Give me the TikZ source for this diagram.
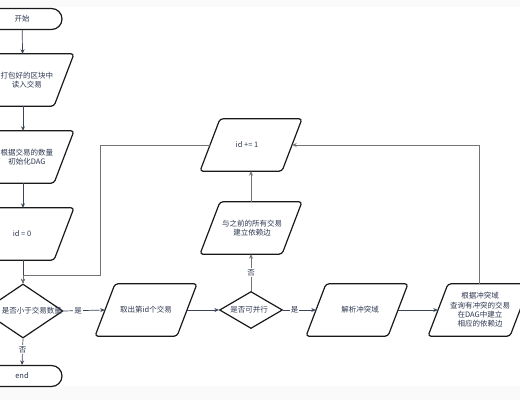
\documentclass[tikz,border=0pt]{standalone}
\usepackage{fontspec}
\newfontfamily\cjk{Noto Sans CJK SC}
\usetikzlibrary{shapes.geometric,shapes.misc,arrows.meta,calc}
\definecolor{txtc}{RGB}{45,55,80}
\definecolor{edgec}{RGB}{25,25,25}
\definecolor{arrc}{RGB}{60,68,88}
\definecolor{loopc}{RGB}{115,115,115}
\definecolor{bandc}{RGB}{250,250,250}
\tikzset{
 lbl/.style={font=\cjk\fontsize{7.5}{9.3}\selectfont, text=txtc, align=center, inner sep=0pt},
 pbox/.style={draw=none, minimum width=82pt, minimum height=52pt, inner sep=0pt},
 pshape/.style={draw=edgec, line width=1.2pt, rounded corners=3pt},
 diam/.style={diamond, draw=edgec, line width=1.2pt, inner sep=0pt},
 term/.style={rounded rectangle, draw=edgec, line width=1.2pt, minimum width=80pt, minimum height=21pt, inner sep=0pt},
 arr/.style={-{Stealth[length=4.5pt,width=4pt]}, line width=0.7pt, draw=arrc},
 back/.style={arr, draw=loopc},
 elab/.style={lbl, fill=white, inner sep=1pt},
}
\newcommand\parabox[5]{%
 \node[pbox] (#1) at (#2,#3) {};
 \draw[pshape] ($(#1.north)+(-31pt,0pt)$) -- ($(#1.north)+(51pt,0pt)$) -- ($(#1.south)+(31pt,0pt)$) -- ($(#1.south)+(-51pt,0pt)$) -- cycle;
 \node[lbl] (#1t) at (#4,#3) {#5};
}
\begin{document}
\begin{tikzpicture}[x=1pt,y=-1pt]
\useasboundingbox (0,0) rectangle (520,400);
\fill[bandc] (0,0) rectangle (520,7);
\fill[bandc] (0,386) rectangle (520,400);

\node[term, lbl] (start) at (22,19) {开始};
\parabox{p1}{23}{80}{27}{打包好的区块中\\读入交易}
\parabox{p2}{23}{157}{27}{根据交易的数量\\初始化DAG}
\parabox{p3}{23}{234}{22}{id = 0}
\node[diam, minimum width=80pt, minimum height=54pt] (d1) at (23,311) {};
\node[lbl, anchor=east] (d1t) at (62,311) {是否小于交易数量};
\node[term, lbl] (end) at (22,376) {end};

\parabox{take}{146}{310}{146}{取出第id个交易}
\node[diam, minimum width=63pt, minimum height=37pt] (d2) at (251,310) {};
\node[lbl] (d2t) at (249,310) {是否可并行};
\parabox{dep}{251}{228}{252}{与之前的所有交易\\建立依赖边}
\parabox{inc}{251}{145}{247}{id += 1}
\parabox{parse}{357}{310}{360}{解析冲突域}
\parabox{build}{479}{310}{480}{根据冲突域\\查询有冲突的交易\\在DAG中建立\\相应的依赖边}

\coordinate (c1) at (100,275);

\draw[arr] (start) -- (p1);
\draw[arr] (p1) -- (p2);
\draw[arr] (p2) -- (p3);
\draw[arr] (p3) -- (d1.north);
\draw[back] (inc.west) -| (c1) -- (c1 -| d1.north) -- (d1.north);
\draw[arr] (d1.east) -- node[elab, pos=0.35] (l1) {是} (take.west);
\draw[arr] (d1.south) -- node[elab, pos=0.42] (l2) {否} (end.north);
\draw[arr] (take.east) -- (d2.west);
\draw[back] (d2.north) -- node[elab, pos=0.5] (l3) {否} (dep.south);
\draw[back] (dep.north) -- (inc.south);
\draw[arr] (d2.east) -- node[elab, pos=0.35] (l4) {是} (parse.west);
\draw[arr] (parse.east) -- (build.west);
\draw[back] (build.north) |- (inc.east);
\end{tikzpicture}
\end{document}
